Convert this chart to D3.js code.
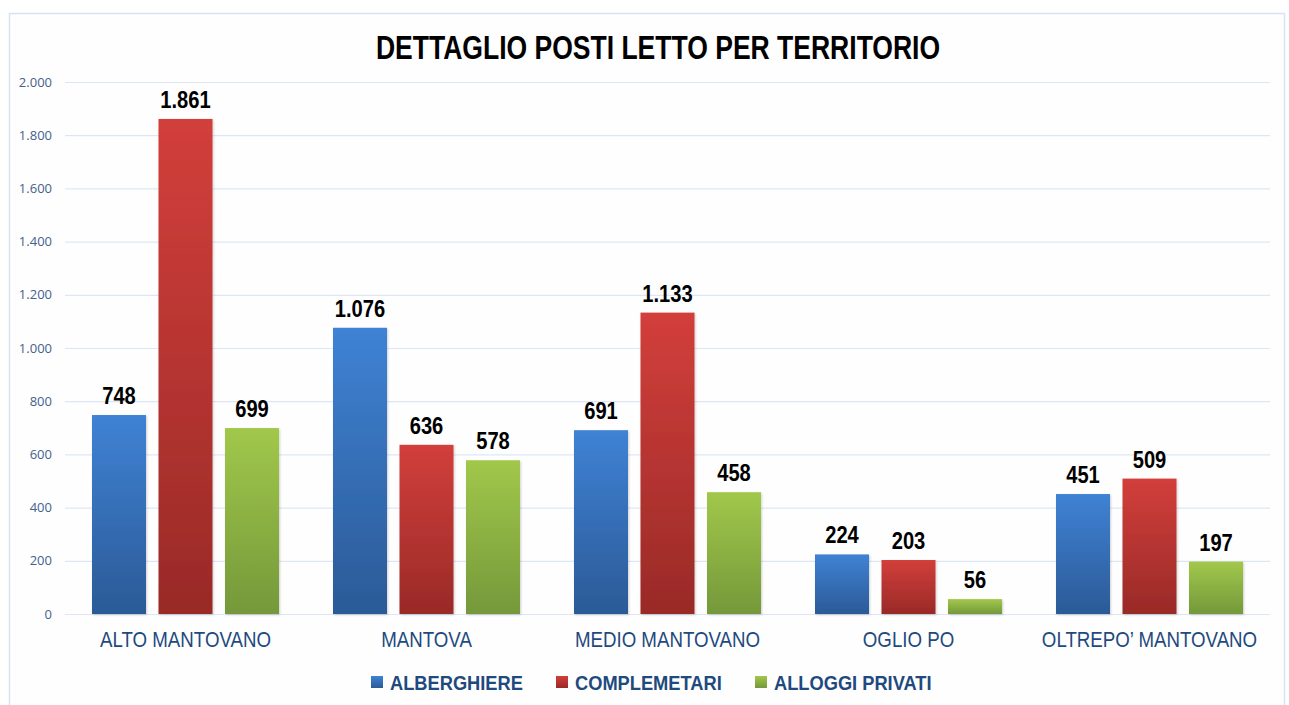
<!DOCTYPE html>
<html><head><meta charset="utf-8">
<script src="https://cdn.jsdelivr.net/npm/d3@7"></script>
<style>
html,body{margin:0;padding:0;background:#fff;}
svg{display:block;}
</style></head>
<body>
<svg id="chart" width="1289" height="705"></svg>
<script>
const title = "DETTAGLIO POSTI LETTO PER TERRITORIO";
const categories = ["ALTO MANTOVANO","MANTOVA","MEDIO MANTOVANO","OGLIO PO","OLTREPO’ MANTOVANO"];
const seriesNames = ["ALBERGHIERE","COMPLEMETARI","ALLOGGI PRIVATI"];
const alberghiere = [748,1076,691,224,451];
const complementari = [1861,636,1133,203,509];
const alloggiPrivati = [699,578,458,56,197];
const yTicks = [0,200,400,600,800,1000,1200,1400,1600,1800,2000];
const seriesColors = [["#3f82d4","#2b5a97"],["#d23f3b","#992a27"],["#a1c84b","#75983a"]];

const seriesValues = [alberghiere, complementari, alloggiPrivati];
const svg = d3.select("#chart");
const W = 1289, H = 705;
const m = {left:65, right:19, top:82, bottom:91};
const font = "'Liberation Sans',Arial,sans-serif";
const loc = d3.formatLocale({decimal:",",thousands:".",grouping:[3],currency:["€",""]});
const fmt = loc.format(",d");

const defs = svg.append("defs");
seriesColors.forEach((c,i)=>{
  const g = defs.append("linearGradient").attr("id","g"+i).attr("x1",0).attr("y1",0).attr("x2",0).attr("y2",1);
  g.append("stop").attr("offset","0%").attr("stop-color",c[0]);
  g.append("stop").attr("offset","100%").attr("stop-color",c[1]);
});
const f = defs.append("filter").attr("id","sh").attr("x","-10%").attr("y","-10%").attr("width","130%").attr("height","130%");
f.append("feDropShadow").attr("dx",1).attr("dy",1).attr("stdDeviation",1).attr("flood-color","#000").attr("flood-opacity",0.18);

// frame
svg.append("rect").attr("x",9.5).attr("y",13.5).attr("width",1275).attr("height",705)
  .attr("fill","#fefefe").attr("stroke","#d5e2f1").attr("stroke-width",1.5);

const x0 = d3.scaleBand().domain(categories).range([m.left, W-m.right]).paddingInner(0.224).paddingOuter(0.112);
const x1 = d3.scaleBand().domain(seriesNames).range([0, x0.bandwidth()]).paddingInner(0.188).paddingOuter(0);
const y = d3.scaleLinear().domain([0,2000]).range([H-m.bottom, m.top]);

// grid
const yAxis = d3.axisLeft(y).tickValues(yTicks).tickFormat(fmt).tickSize(-(W-m.left-m.right)).tickPadding(13);
const ga = svg.append("g").attr("transform",`translate(${m.left},0)`).call(yAxis);
ga.select(".domain").remove();
ga.selectAll(".tick line").attr("stroke","#dde7f3").attr("stroke-width",1.2);
ga.selectAll(".tick text").attr("fill","#44618c").attr("font-family","'Open Sans',sans-serif").attr("font-size",13);

// bars
const groups = svg.append("g").selectAll("g").data(categories).join("g")
  .attr("transform",d=>`translate(${x0(d)},0)`);
const cellData = (d,ci)=>seriesNames.map((s,si)=>({s,si,v:seriesValues[si][ci]}));
groups.selectAll("rect").data(cellData)
  .join("rect")
  .attr("x",d=>x1(d.s)).attr("width",x1.bandwidth())
  .attr("y",d=>y(d.v)).attr("height",d=>y(0)-y(d.v))
  .attr("fill",d=>`url(#g${d.si})`).attr("filter","url(#sh)");
groups.selectAll("text").data(cellData)
  .join("text")
  .attr("transform",d=>`translate(${x1(d.s)+x1.bandwidth()/2},${y(d.v)-11}) scale(0.84,1)`)
  .attr("text-anchor","middle").attr("font-family",font).attr("font-weight","bold")
  .attr("font-size",24).attr("fill","#000").text(d=>fmt(d.v));

// category axis labels
const xAxis = d3.axisBottom(x0).tickSize(0).tickPadding(17);
const gx = svg.append("g").attr("transform",`translate(0,${y(0)})`).call(xAxis);
gx.select(".domain").remove();
gx.selectAll(".tick text").attr("fill","#1f4a7e").attr("font-family",font).attr("font-size",22)
  .attr("transform","scale(0.85,1)");

// title
svg.append("text").attr("transform","translate(658,59) scale(0.78,1)").attr("text-anchor","middle")
  .attr("font-family",font).attr("font-weight","bold").attr("font-size",34).attr("fill","#000").text(title);

// legend
const legX = [371,556,755];
const lg = svg.append("g").selectAll("g").data(seriesNames).join("g")
  .attr("transform",(d,i)=>`translate(${legX[i]},682)`);
lg.append("rect").attr("x",0).attr("y",-6).attr("width",12).attr("height",12).attr("fill",(d,i)=>`url(#g${i})`);
lg.append("text").attr("transform","translate(19,8) scale(0.87,1)").attr("font-family",font).attr("font-weight","bold")
  .attr("font-size",21).attr("fill","#1f4a7e").text(d=>d);
</script>
</body></html>
